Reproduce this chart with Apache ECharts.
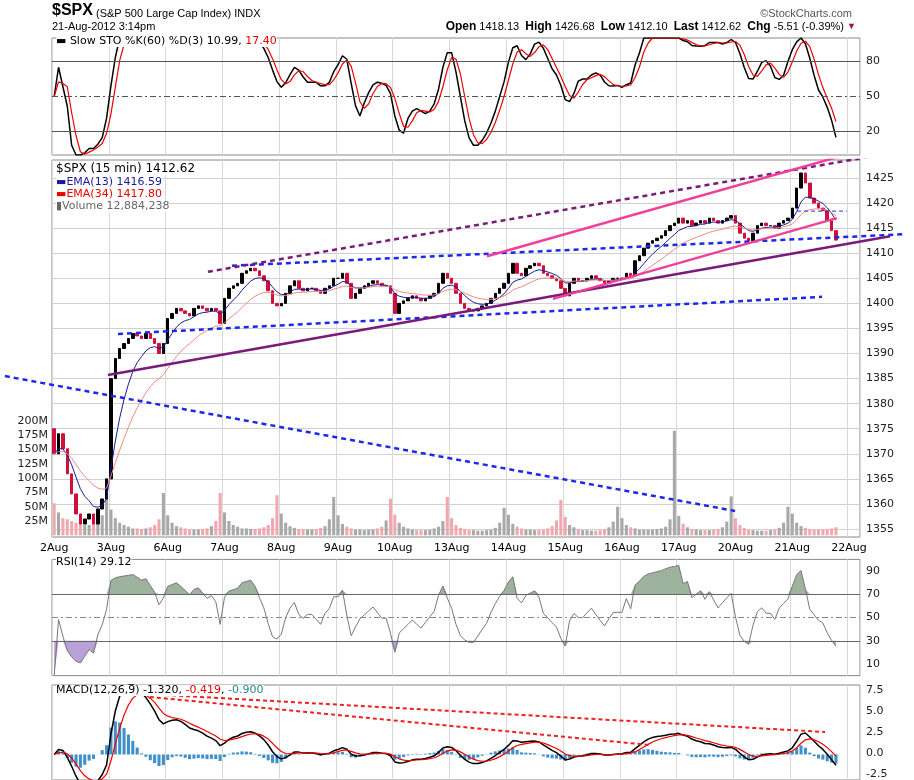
<!DOCTYPE html>
<html>
<head>
<meta charset="utf-8">
<script src="https://cdn.jsdelivr.net/npm/echarts@6/dist/echarts.min.js"></script>
<style>html,body{margin:0;padding:0;background:#fff}#main{width:914px;height:780px}</style>
</head>
<body>
<div id="main"></div>
<script>
// 30-minute closes per trading day
var days = ['2Aug','3Aug','6Aug','7Aug','8Aug','9Aug','10Aug','13Aug','14Aug','15Aug','16Aug','17Aug','20Aug','21Aug','22Aug'];
var firstOpen = 1375;
var closes = [
  1370,1374,1371,1366,1362,1358,1356,1357,1358,1356,1359,1361,1365,
  1385,1389,1391,1392,1393,1394,1393.5,1393,1394,1393,1392,1390,1392,
  1397,1398,1399,1398.5,1398,1397.5,1399,1399.5,1399,1398.5,1399,1398.5,1396,
  1401,1403,1403.5,1404,1406,1406.5,1407,1406.5,1405.5,1404.5,1402.5,1400,1399.5,
  1400,1402,1403.5,1404.5,1403,1402.5,1403,1403,1402.5,1402,1403,1403.5,1405,
  1405,1406,1404,1401,1402,1403,1403.5,1404,1404.5,1404,1403.5,1403.5,1402,
  1398,1400,1400.5,1401,1401.5,1401,1400.5,1401,1401.5,1402,1404,1406,1405,
  1404,1402,1400,1399,1398.5,1398.5,1399,1399.5,1400,1401,1402,1403,1404,
  1406,1408,1406,1405.5,1407,1407.5,1408,1407.5,1406,1405.5,1405,1404.5,1403,
  1401.5,1404,1405,1404.5,1404.5,1405,1405.5,1405,1404.5,1404,1404.5,1405,1405,
  1405,1406,1405.5,1408.5,1409.5,1411,1412,1412.5,1413,1413.5,1414.5,1415.5,1416,
  1417,1416,1416.5,1415.5,1416,1416.5,1416,1417,1416.5,1416,1416.5,1417,1417.5,
  1416,1414,1413,1412.5,1414,1415.5,1416,1415.5,1415.5,1415,1416,1416.5,1417,
  1419,1423,1426,1424,1421,1420,1419,1418.5,1416.5,1414.5,1412.62
];
// volume in millions
var volumes = [
  56,40,30,28,25,22,20,18,18,20,22,35,74,
  45,30,22,18,15,12,12,11,12,14,18,28,74,
  35,22,16,14,12,10,10,10,11,12,16,25,74,
  40,25,18,15,12,12,11,11,12,14,18,30,70,
  38,22,16,13,11,10,10,10,11,13,16,28,67,
  35,20,15,12,10,10,9,10,10,12,15,26,64,
  36,22,15,12,10,9,9,9,10,12,15,25,67,
  30,18,13,11,9,9,8,8,9,10,13,22,48,
  36,20,15,12,10,10,9,9,10,12,16,26,62,
  32,18,14,11,9,9,8,8,9,11,14,24,50,
  30,18,14,12,10,10,10,10,11,12,15,28,183,
  34,20,14,11,10,9,9,9,10,11,14,24,68,
  30,18,13,10,9,8,8,8,9,10,13,22,50,
  38,22,16,13,11,10,10,10,11,12,14
];
// drawn trend lines: [x1, price1, x2, price2] in bar units
var trendBlue = [[-10.8,1385.5,156.4,1358.6],[15.1,1393.9,176.3,1401.3],[41.2,1407.5,195.3,1413.8]];
var trendPurple = [12.8,1385.7,191.9,1413.4];
var trendPurpleDot = [35.7,1406.3,189.6,1429.6];
var trendPink = [[99.6,1409.4,181.6,1429.6],[114.7,1400.9,179.7,1417.0]];
var trendShort = [170.6,1418.4,182.0,1418.4];
var macdLines = [[17.9,7.15,177.0,2.62],[22.4,6.69,136.9,1.10]];

var BARS_PER_DAY = 13, NCAT = 185;
var cats = [], ohlc = [], vol = [];
for (var i = 0; i < NCAT; i++) cats.push(String(i));
var prev = firstOpen;
closes.forEach(function(c, i){
  var o = prev;
  ohlc.push([o, c, Math.min(o,c), Math.max(o,c)]);
  vol.push({value: volumes[i]*1e6, itemStyle:{color: c >= o ? '#a8a8a8' : '#f0a8ae'}});
  prev = c;
});

function ema(arr, n){ var k=2/(n+1), out=[], e=arr[0]; arr.forEach(function(v){ e=v*k+e*(1-k); out.push(+e.toFixed(3)); }); return out; }
function sma(arr, n){ return arr.map(function(v,i){ var s=0,c=0; for(var j=Math.max(0,i-n+1);j<=i;j++){s+=arr[j];c++;} return s/c; }); }
var ema13 = ema(closes, 7), ema34 = ema(closes, 17);
// slow stochastic
var fastK = closes.map(function(c,i){
  var w = closes.slice(Math.max(0,i-29), i+1), lo=Math.min.apply(null,w), hi=Math.max.apply(null,w);
  return hi===lo ? 50 : (c-lo)/(hi-lo)*100;
});
var slowK = sma(fastK,3), slowD = sma(slowK,3);
// RSI
var rsi = [], ag=0, al=0, N=7;
closes.forEach(function(c,i){
  var ch = c - (i ? closes[i-1] : firstOpen);
  ag = (ag*(N-1) + Math.max(ch,0))/N; al = (al*(N-1) + Math.max(-ch,0))/N;
  rsi.push(al===0 ? 100 : 100 - 100/(1+ag/al));
});
// MACD
var e12 = ema(closes,6), e26 = ema(closes,13);
var macd = e12.map(function(v,i){ return v - e26[i]; });
var sig = ema(macd,5);
var hist = macd.map(function(v,i){ return v - sig[i]; });

var dayTick = function(i){ return i % BARS_PER_DAY === 0; };
function catAxis(g, showLabel){
  return {type:'category', gridIndex:g, data:cats, boundaryGap:true,
    axisLine:{show:false}, axisTick:{show:false},
    axisLabel:{show:showLabel, interval:dayTick, color:'#000', fontSize:11, margin:6,
      formatter:function(v){ return days[+v/BARS_PER_DAY] || ''; }},
    splitLine:{show:true, interval:dayTick, lineStyle:{color:'#d8d8d8'}}};
}
function hidCat(g){ return {type:'category', gridIndex:g, data:cats, show:false}; }
function lblAxis(g, min, max, itv, fmt){
  return {type:'value', gridIndex:g, position:'right', min:min, max:max, interval:itv,
    axisLine:{show:false}, axisTick:{show:false},
    axisLabel:{color:'#222', fontSize:11, margin:6, formatter:fmt || function(v){ return String(v); }},
    splitLine:{show:true, lineStyle:{color:'#d0d0d0'}}};
}
function hidVal(g, min, max){ return {type:'value', gridIndex:g, min:min, max:max, show:false, splitLine:{show:false}}; }
function seg(a, xi, yi, color, type, w){
  return {type:'line', xAxisIndex:xi, yAxisIndex:yi, data:[[a[0],a[1]],[a[2],a[3]]], symbol:'none', silent:true,
    lineStyle:{color:color, type:type, width:w}, z:5};
}

var L = 52, R = 54, border = {show:true, borderColor:'#888', borderWidth:1, backgroundColor:'transparent'};
var chart = echarts.init(document.getElementById('main'));
var series = [
  // STO
  {type:'line', xAxisIndex:0, yAxisIndex:0, data:slowK, symbol:'none', lineStyle:{color:'#000', width:1.5},
   markLine:{silent:true, symbol:'none', label:{show:false}, data:[
     {yAxis:80, lineStyle:{color:'#555', type:'solid', width:1}},
     {yAxis:50, lineStyle:{color:'#555', type:[6,3,2,3], width:1}},
     {yAxis:20, lineStyle:{color:'#555', type:'solid', width:1}}]}},
  {type:'line', xAxisIndex:0, yAxisIndex:0, data:slowD, symbol:'none', lineStyle:{color:'#e00', width:1.2}},
  // main
  {type:'candlestick', xAxisIndex:2, yAxisIndex:2, data:ohlc, barWidth:3,
   itemStyle:{color:'#000', color0:'#d0103a', borderColor:'#000', borderColor0:'#d0103a'}},
  {type:'line', xAxisIndex:2, yAxisIndex:2, data:ema13, symbol:'none', lineStyle:{color:'#1a1a9a', width:1}},
  {type:'line', xAxisIndex:2, yAxisIndex:2, data:ema34, symbol:'none', lineStyle:{color:'#f08a80', width:1}},
  {type:'bar', xAxisIndex:4, yAxisIndex:4, data:vol, barWidth:'70%', z:1},
  // RSI
  {type:'line', xAxisIndex:6, yAxisIndex:6, data:rsi.map(function(v){return Math.max(v,70);}), symbol:'none',
   lineStyle:{width:0}, areaStyle:{origin:70, color:'#9db39d', opacity:1}},
  {type:'line', xAxisIndex:6, yAxisIndex:6, data:rsi.map(function(v){return Math.min(v,30);}), symbol:'none',
   lineStyle:{width:0}, areaStyle:{origin:30, color:'#b8a0d8', opacity:1}},
  {type:'line', xAxisIndex:6, yAxisIndex:6, data:rsi, symbol:'none', lineStyle:{color:'#777', width:1},
   markLine:{silent:true, symbol:'none', label:{show:false}, data:[
     {yAxis:70, lineStyle:{color:'#666', type:'solid', width:1}},
     {yAxis:50, lineStyle:{color:'#888', type:[6,3,2,3], width:1}},
     {yAxis:30, lineStyle:{color:'#666', type:'solid', width:1}}]}},
  // MACD
  {type:'bar', xAxisIndex:8, yAxisIndex:8, data:hist, barWidth:'70%', itemStyle:{color:'#3f8fc8'}},
  {type:'line', xAxisIndex:8, yAxisIndex:8, data:macd, symbol:'none', lineStyle:{color:'#000', width:1.5}},
  {type:'line', xAxisIndex:8, yAxisIndex:8, data:sig, symbol:'none', lineStyle:{color:'#e00', width:1.2}}
];
trendBlue.forEach(function(a){ series.push(seg(a,5,5,'#1a2ae8',[5,4],2.5)); });
series.push(seg(trendPurple,5,5,'#7a1a7a','solid',2.5));
series.push(seg(trendPurpleDot,5,5,'#7a1a7a',[5,4],2.5));
trendPink.forEach(function(a){ series.push(seg(a,5,5,'#f0409a','solid',2.5)); });
series.push(seg(trendShort,5,5,'#1a2ae8',[4,3],1));
macdLines.forEach(function(a){ series.push(seg(a,10,10,'#f02020',[4,3],2)); });

var xFull = function(g){ return {type:'value', gridIndex:g, min:-52/4.3676, max:862/4.3676, show:false}; };

chart.setOption({
  animation:false,
  backgroundColor:'#fff',
  textStyle:{fontFamily:'DejaVu Sans'},
  grid:[
    Object.assign({left:L, right:R, top:38, height:117}, border),   //0 STO data
    {left:L, right:R, top:61.6, height:70},                           //1 STO labels
    Object.assign({left:L, right:R, top:160, height:377}, border),  //2 main data
    {left:L, right:R, top:178, height:351},                           //3 price labels
    {left:L, right:R, top:421, height:114.3},                         //4 volume
    {left:0, right:0, top:160, height:377},                           //5 overlay
    Object.assign({left:L, right:R, top:559.4, height:116.25}, border), //6 RSI
    {left:L, right:R, top:571, height:93},                            //7 RSI labels
    Object.assign({left:L, right:R, top:685, height:95}, border),   //8 MACD
    {left:L, right:R, top:690, height:86},                            //9 MACD labels
    {left:0, right:0, top:685, height:95}                             //10 MACD overlay
  ],
  xAxis:[catAxis(0,false), hidCat(1), catAxis(2,true), hidCat(3), hidCat(4), xFull(5),
         catAxis(6,false), hidCat(7), catAxis(8,false), hidCat(9), xFull(10)],
  yAxis:[
    hidVal(0,0,100),
    Object.assign(lblAxis(1,20,80,30), {splitLine:{show:false}}),
    hidVal(2,1353.41,1428.59),
    lblAxis(3,1355,1425,5),
    {type:'value', gridIndex:4, position:'left', min:0, max:200e6, interval:25e6,
     axisLine:{show:false}, axisTick:{show:false}, splitLine:{show:false},
     axisLabel:{color:'#222', fontSize:11, margin:4, showMinLabel:false,
       formatter:function(v){ return v ? (v/1e6)+'M' : ''; }}},
    hidVal(5,1353.41,1428.59),
    hidVal(6,0,100),
    Object.assign(lblAxis(7,10,90,20), {splitLine:{show:false}}),
    hidVal(8,-2.965,8.081),
    Object.assign(lblAxis(9,-2.5,7.5,2.5,function(v){return v.toFixed(1);}), {splitLine:{show:false}}),
    hidVal(10,-2.965,8.081)
  ],
  series:series,
  graphic:{elements:[
    {type:'text', z:100, left:52, top:3, style:{text:'$SPX', font:'bold 16px "Liberation Sans Narrow", "Liberation Sans"', fill:'#000'}},
    {type:'text', z:100, left:96, top:8, style:{text:'(S&P 500 Large Cap Index) INDX', font:'11px "Liberation Sans"', fill:'#000'}},
    {type:'text', z:100, left:52, top:21, style:{text:'21-Aug-2012 3:14pm', font:'11px "Liberation Sans"', fill:'#000'}},
    {type:'text', z:100, right:62, top:8, style:{text:'©StockCharts.com', font:'11px "Liberation Sans"', fill:'#555'}},
    {type:'text', z:100, right:58, top:21, style:{
      text:'{b|Open} 1418.13  {b|High} 1426.68  {b|Low} 1412.10  {b|Last} 1412.62  {b|Chg} -5.51 (-0.39%) {r|▼}',
      font:'11px "Liberation Sans"', fill:'#000',
      rich:{b:{font:'bold 12px "Liberation Sans"', fill:'#000'}, r:{fill:'#a01040', fontSize:9}}}},
    {type:'text', z:100, left:56, top:36, style:{text:'▬ Slow STO %K(60) %D(3) 10.99, {r|17.40}', font:'11px "DejaVu Sans"', fill:'#000',
      backgroundColor:'#fff', rich:{r:{fill:'#e00'}}}},
    {type:'text', z:100, left:56, top:163, style:{text:'$SPX (15 min) 1412.62', font:'12px "DejaVu Sans"', fill:'#000', backgroundColor:'#fff'}},
    {type:'text', z:100, left:56, top:177, style:{text:'▬EMA(13) 1416.59', font:'11px "DejaVu Sans"', fill:'#1a1a9a', backgroundColor:'#fff'}},
    {type:'text', z:100, left:56, top:189, style:{text:'▬EMA(34) 1417.80', font:'11px "DejaVu Sans"', fill:'#e00', backgroundColor:'#fff'}},
    {type:'text', z:100, left:56, top:201, style:{text:'▮Volume 12,884,238', font:'11px "DejaVu Sans"', fill:'#666', backgroundColor:'#fff'}},
    {type:'text', z:100, left:56, top:557, style:{text:'RSI(14) 29.12', font:'11px "DejaVu Sans"', fill:'#000', backgroundColor:'#fff'}},
    {type:'text', z:100, left:56, top:685, style:{text:'MACD(12,26,9) -1.320, {r|-0.419}, {t|-0.900}', font:'11px "DejaVu Sans"', fill:'#000',
      backgroundColor:'#fff', rich:{r:{fill:'#e00'}, t:{fill:'#2a8a8a'}}}}
  ]}
});
</script>
</body>
</html>
